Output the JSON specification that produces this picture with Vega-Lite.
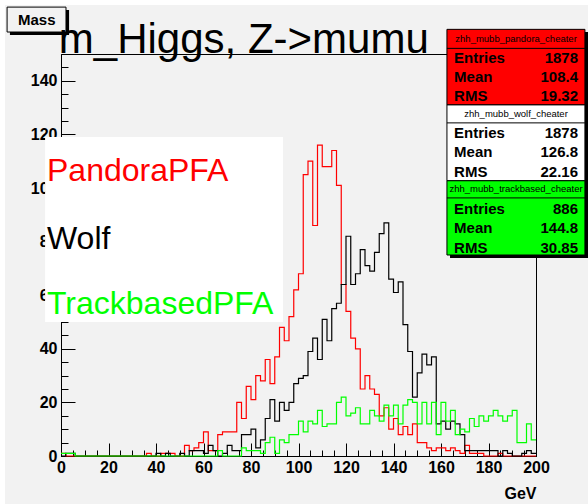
{
  "$schema": "https://vega.github.io/schema/vega-lite/v6.json",
  "width": 475,
  "height": 402,
  "autosize": {"type": "none"},
  "padding": {"left": 61, "top": 54, "right": 52, "bottom": 48},
  "background": "#f2f2f2",
  "config": {
    "font": "Liberation Sans",
    "view": {"stroke": "black", "strokeWidth": 1, "fill": "#f2f2f2"},
    "axis": {"grid": false}
  },
  "datasets": {
    "hist": [
      {"s":"PandoraPFA","lo":0,"hi":2,"n":1},{"s":"PandoraPFA","lo":2,"hi":4,"n":0},{"s":"PandoraPFA","lo":4,"hi":6,"n":0},{"s":"PandoraPFA","lo":6,"hi":8,"n":0},{"s":"PandoraPFA","lo":8,"hi":10,"n":0},
      {"s":"PandoraPFA","lo":10,"hi":12,"n":0},{"s":"PandoraPFA","lo":12,"hi":14,"n":0},{"s":"PandoraPFA","lo":14,"hi":16,"n":0},{"s":"PandoraPFA","lo":16,"hi":18,"n":0},{"s":"PandoraPFA","lo":18,"hi":20,"n":0},
      {"s":"PandoraPFA","lo":20,"hi":22,"n":0},{"s":"PandoraPFA","lo":22,"hi":24,"n":0},{"s":"PandoraPFA","lo":24,"hi":26,"n":0},{"s":"PandoraPFA","lo":26,"hi":28,"n":0},{"s":"PandoraPFA","lo":28,"hi":30,"n":0},
      {"s":"PandoraPFA","lo":30,"hi":32,"n":0},{"s":"PandoraPFA","lo":32,"hi":34,"n":0},{"s":"PandoraPFA","lo":34,"hi":36,"n":0},{"s":"PandoraPFA","lo":36,"hi":38,"n":1},{"s":"PandoraPFA","lo":38,"hi":40,"n":0},
      {"s":"PandoraPFA","lo":40,"hi":42,"n":0},{"s":"PandoraPFA","lo":42,"hi":44,"n":1},{"s":"PandoraPFA","lo":44,"hi":46,"n":1},{"s":"PandoraPFA","lo":46,"hi":48,"n":1},{"s":"PandoraPFA","lo":48,"hi":50,"n":0},
      {"s":"PandoraPFA","lo":50,"hi":52,"n":0},{"s":"PandoraPFA","lo":52,"hi":54,"n":4},{"s":"PandoraPFA","lo":54,"hi":56,"n":2},{"s":"PandoraPFA","lo":56,"hi":58,"n":3},{"s":"PandoraPFA","lo":58,"hi":60,"n":5},
      {"s":"PandoraPFA","lo":60,"hi":62,"n":9},{"s":"PandoraPFA","lo":62,"hi":64,"n":2},{"s":"PandoraPFA","lo":64,"hi":66,"n":2},{"s":"PandoraPFA","lo":66,"hi":68,"n":8},{"s":"PandoraPFA","lo":68,"hi":70,"n":9},
      {"s":"PandoraPFA","lo":70,"hi":72,"n":9},{"s":"PandoraPFA","lo":72,"hi":74,"n":9},{"s":"PandoraPFA","lo":74,"hi":76,"n":20},{"s":"PandoraPFA","lo":76,"hi":78,"n":14},{"s":"PandoraPFA","lo":78,"hi":80,"n":26},
      {"s":"PandoraPFA","lo":80,"hi":82,"n":21},{"s":"PandoraPFA","lo":82,"hi":84,"n":30},{"s":"PandoraPFA","lo":84,"hi":86,"n":28},{"s":"PandoraPFA","lo":86,"hi":88,"n":36},{"s":"PandoraPFA","lo":88,"hi":90,"n":27},
      {"s":"PandoraPFA","lo":90,"hi":92,"n":37},{"s":"PandoraPFA","lo":92,"hi":94,"n":48},{"s":"PandoraPFA","lo":94,"hi":96,"n":43},{"s":"PandoraPFA","lo":96,"hi":98,"n":52},{"s":"PandoraPFA","lo":98,"hi":100,"n":62},
      {"s":"PandoraPFA","lo":100,"hi":102,"n":68},{"s":"PandoraPFA","lo":102,"hi":104,"n":105},{"s":"PandoraPFA","lo":104,"hi":106,"n":110},{"s":"PandoraPFA","lo":106,"hi":108,"n":86},{"s":"PandoraPFA","lo":108,"hi":110,"n":116},
      {"s":"PandoraPFA","lo":110,"hi":112,"n":108},{"s":"PandoraPFA","lo":112,"hi":114,"n":108},{"s":"PandoraPFA","lo":114,"hi":116,"n":114},{"s":"PandoraPFA","lo":116,"hi":118,"n":101},{"s":"PandoraPFA","lo":118,"hi":120,"n":64},
      {"s":"PandoraPFA","lo":120,"hi":122,"n":54},{"s":"PandoraPFA","lo":122,"hi":124,"n":44},{"s":"PandoraPFA","lo":124,"hi":126,"n":40},{"s":"PandoraPFA","lo":126,"hi":128,"n":25},{"s":"PandoraPFA","lo":128,"hi":130,"n":30},
      {"s":"PandoraPFA","lo":130,"hi":132,"n":25},{"s":"PandoraPFA","lo":132,"hi":134,"n":23},{"s":"PandoraPFA","lo":134,"hi":136,"n":15},{"s":"PandoraPFA","lo":136,"hi":138,"n":18},{"s":"PandoraPFA","lo":138,"hi":140,"n":10},
      {"s":"PandoraPFA","lo":140,"hi":142,"n":14},{"s":"PandoraPFA","lo":142,"hi":144,"n":8},{"s":"PandoraPFA","lo":144,"hi":146,"n":11},{"s":"PandoraPFA","lo":146,"hi":148,"n":8},{"s":"PandoraPFA","lo":148,"hi":150,"n":12},
      {"s":"PandoraPFA","lo":150,"hi":152,"n":5},{"s":"PandoraPFA","lo":152,"hi":154,"n":5},{"s":"PandoraPFA","lo":154,"hi":156,"n":3},{"s":"PandoraPFA","lo":156,"hi":158,"n":2},{"s":"PandoraPFA","lo":158,"hi":160,"n":3},
      {"s":"PandoraPFA","lo":160,"hi":162,"n":3},{"s":"PandoraPFA","lo":162,"hi":164,"n":2},{"s":"PandoraPFA","lo":164,"hi":166,"n":3},{"s":"PandoraPFA","lo":166,"hi":168,"n":2},{"s":"PandoraPFA","lo":168,"hi":170,"n":1},
      {"s":"PandoraPFA","lo":170,"hi":172,"n":4},{"s":"PandoraPFA","lo":172,"hi":174,"n":1},{"s":"PandoraPFA","lo":174,"hi":176,"n":1},{"s":"PandoraPFA","lo":176,"hi":178,"n":1},{"s":"PandoraPFA","lo":178,"hi":180,"n":0},
      {"s":"PandoraPFA","lo":180,"hi":182,"n":0},{"s":"PandoraPFA","lo":182,"hi":184,"n":0},{"s":"PandoraPFA","lo":184,"hi":186,"n":1},{"s":"PandoraPFA","lo":186,"hi":188,"n":0},{"s":"PandoraPFA","lo":188,"hi":190,"n":0},
      {"s":"PandoraPFA","lo":190,"hi":192,"n":0},{"s":"PandoraPFA","lo":192,"hi":194,"n":0},{"s":"PandoraPFA","lo":194,"hi":196,"n":0},{"s":"PandoraPFA","lo":196,"hi":198,"n":0},{"s":"PandoraPFA","lo":198,"hi":200,"n":0},

      {"s":"Wolf","lo":0,"hi":2,"n":0},{"s":"Wolf","lo":2,"hi":4,"n":1},{"s":"Wolf","lo":4,"hi":6,"n":1},{"s":"Wolf","lo":6,"hi":8,"n":0},{"s":"Wolf","lo":8,"hi":10,"n":0},
      {"s":"Wolf","lo":10,"hi":12,"n":0},{"s":"Wolf","lo":12,"hi":14,"n":0},{"s":"Wolf","lo":14,"hi":16,"n":0},{"s":"Wolf","lo":16,"hi":18,"n":0},{"s":"Wolf","lo":18,"hi":20,"n":0},
      {"s":"Wolf","lo":20,"hi":22,"n":0},{"s":"Wolf","lo":22,"hi":24,"n":0},{"s":"Wolf","lo":24,"hi":26,"n":0},{"s":"Wolf","lo":26,"hi":28,"n":0},{"s":"Wolf","lo":28,"hi":30,"n":0},
      {"s":"Wolf","lo":30,"hi":32,"n":0},{"s":"Wolf","lo":32,"hi":34,"n":0},{"s":"Wolf","lo":34,"hi":36,"n":0},{"s":"Wolf","lo":36,"hi":38,"n":0},{"s":"Wolf","lo":38,"hi":40,"n":0},
      {"s":"Wolf","lo":40,"hi":42,"n":1},{"s":"Wolf","lo":42,"hi":44,"n":0},{"s":"Wolf","lo":44,"hi":46,"n":1},{"s":"Wolf","lo":46,"hi":48,"n":0},{"s":"Wolf","lo":48,"hi":50,"n":0},
      {"s":"Wolf","lo":50,"hi":52,"n":1},{"s":"Wolf","lo":52,"hi":54,"n":0},{"s":"Wolf","lo":54,"hi":56,"n":2},{"s":"Wolf","lo":56,"hi":58,"n":2},{"s":"Wolf","lo":58,"hi":60,"n":2},
      {"s":"Wolf","lo":60,"hi":62,"n":1},{"s":"Wolf","lo":62,"hi":64,"n":4},{"s":"Wolf","lo":64,"hi":66,"n":2},{"s":"Wolf","lo":66,"hi":68,"n":0},{"s":"Wolf","lo":68,"hi":70,"n":1},
      {"s":"Wolf","lo":70,"hi":72,"n":4},{"s":"Wolf","lo":72,"hi":74,"n":2},{"s":"Wolf","lo":74,"hi":76,"n":2},{"s":"Wolf","lo":76,"hi":78,"n":8},{"s":"Wolf","lo":78,"hi":80,"n":8},
      {"s":"Wolf","lo":80,"hi":82,"n":10},{"s":"Wolf","lo":82,"hi":84,"n":3},{"s":"Wolf","lo":84,"hi":86,"n":6},{"s":"Wolf","lo":86,"hi":88,"n":14},{"s":"Wolf","lo":88,"hi":90,"n":21},
      {"s":"Wolf","lo":90,"hi":92,"n":13},{"s":"Wolf","lo":92,"hi":94,"n":20},{"s":"Wolf","lo":94,"hi":96,"n":17},{"s":"Wolf","lo":96,"hi":98,"n":20},{"s":"Wolf","lo":98,"hi":100,"n":27},
      {"s":"Wolf","lo":100,"hi":102,"n":29},{"s":"Wolf","lo":102,"hi":104,"n":30},{"s":"Wolf","lo":104,"hi":106,"n":39},{"s":"Wolf","lo":106,"hi":108,"n":44},{"s":"Wolf","lo":108,"hi":110,"n":36},
      {"s":"Wolf","lo":110,"hi":112,"n":51},{"s":"Wolf","lo":112,"hi":114,"n":43},{"s":"Wolf","lo":114,"hi":116,"n":55},{"s":"Wolf","lo":116,"hi":118,"n":57},{"s":"Wolf","lo":118,"hi":120,"n":64},
      {"s":"Wolf","lo":120,"hi":122,"n":82},{"s":"Wolf","lo":122,"hi":124,"n":64},{"s":"Wolf","lo":124,"hi":126,"n":68},{"s":"Wolf","lo":126,"hi":128,"n":77},{"s":"Wolf","lo":128,"hi":130,"n":71},
      {"s":"Wolf","lo":130,"hi":132,"n":69},{"s":"Wolf","lo":132,"hi":134,"n":76},{"s":"Wolf","lo":134,"hi":136,"n":83},{"s":"Wolf","lo":136,"hi":138,"n":87},{"s":"Wolf","lo":138,"hi":140,"n":66},
      {"s":"Wolf","lo":140,"hi":142,"n":61},{"s":"Wolf","lo":142,"hi":144,"n":65},{"s":"Wolf","lo":144,"hi":146,"n":49},{"s":"Wolf","lo":146,"hi":148,"n":39},{"s":"Wolf","lo":148,"hi":150,"n":22},
      {"s":"Wolf","lo":150,"hi":152,"n":31},{"s":"Wolf","lo":152,"hi":154,"n":38},{"s":"Wolf","lo":154,"hi":156,"n":34},{"s":"Wolf","lo":156,"hi":158,"n":37},{"s":"Wolf","lo":158,"hi":160,"n":12},
      {"s":"Wolf","lo":160,"hi":162,"n":13},{"s":"Wolf","lo":162,"hi":164,"n":10},{"s":"Wolf","lo":164,"hi":166,"n":13},{"s":"Wolf","lo":166,"hi":168,"n":12},{"s":"Wolf","lo":168,"hi":170,"n":8},
      {"s":"Wolf","lo":170,"hi":172,"n":2},{"s":"Wolf","lo":172,"hi":174,"n":2},{"s":"Wolf","lo":174,"hi":176,"n":2},{"s":"Wolf","lo":176,"hi":178,"n":2},{"s":"Wolf","lo":178,"hi":180,"n":2},
      {"s":"Wolf","lo":180,"hi":182,"n":2},{"s":"Wolf","lo":182,"hi":184,"n":2},{"s":"Wolf","lo":184,"hi":186,"n":0},{"s":"Wolf","lo":186,"hi":188,"n":2},{"s":"Wolf","lo":188,"hi":190,"n":1},
      {"s":"Wolf","lo":190,"hi":192,"n":0},{"s":"Wolf","lo":192,"hi":194,"n":0},{"s":"Wolf","lo":194,"hi":196,"n":1},{"s":"Wolf","lo":196,"hi":198,"n":2},{"s":"Wolf","lo":198,"hi":200,"n":1},

      {"s":"TrackbasedPFA","lo":0,"hi":2,"n":1},{"s":"TrackbasedPFA","lo":2,"hi":4,"n":1},{"s":"TrackbasedPFA","lo":4,"hi":6,"n":1},{"s":"TrackbasedPFA","lo":6,"hi":8,"n":0},{"s":"TrackbasedPFA","lo":8,"hi":10,"n":0},
      {"s":"TrackbasedPFA","lo":10,"hi":12,"n":0},{"s":"TrackbasedPFA","lo":12,"hi":14,"n":0},{"s":"TrackbasedPFA","lo":14,"hi":16,"n":0},{"s":"TrackbasedPFA","lo":16,"hi":18,"n":0},{"s":"TrackbasedPFA","lo":18,"hi":20,"n":0},
      {"s":"TrackbasedPFA","lo":20,"hi":22,"n":0},{"s":"TrackbasedPFA","lo":22,"hi":24,"n":0},{"s":"TrackbasedPFA","lo":24,"hi":26,"n":0},{"s":"TrackbasedPFA","lo":26,"hi":28,"n":0},{"s":"TrackbasedPFA","lo":28,"hi":30,"n":0},
      {"s":"TrackbasedPFA","lo":30,"hi":32,"n":0},{"s":"TrackbasedPFA","lo":32,"hi":34,"n":0},{"s":"TrackbasedPFA","lo":34,"hi":36,"n":0},{"s":"TrackbasedPFA","lo":36,"hi":38,"n":0},{"s":"TrackbasedPFA","lo":38,"hi":40,"n":0},
      {"s":"TrackbasedPFA","lo":40,"hi":42,"n":0},{"s":"TrackbasedPFA","lo":42,"hi":44,"n":0},{"s":"TrackbasedPFA","lo":44,"hi":46,"n":0},{"s":"TrackbasedPFA","lo":46,"hi":48,"n":0},{"s":"TrackbasedPFA","lo":48,"hi":50,"n":0},
      {"s":"TrackbasedPFA","lo":50,"hi":52,"n":0},{"s":"TrackbasedPFA","lo":52,"hi":54,"n":0},{"s":"TrackbasedPFA","lo":54,"hi":56,"n":0},{"s":"TrackbasedPFA","lo":56,"hi":58,"n":0},{"s":"TrackbasedPFA","lo":58,"hi":60,"n":0},
      {"s":"TrackbasedPFA","lo":60,"hi":62,"n":0},{"s":"TrackbasedPFA","lo":62,"hi":64,"n":0},{"s":"TrackbasedPFA","lo":64,"hi":66,"n":0},{"s":"TrackbasedPFA","lo":66,"hi":68,"n":2},{"s":"TrackbasedPFA","lo":68,"hi":70,"n":0},
      {"s":"TrackbasedPFA","lo":70,"hi":72,"n":0},{"s":"TrackbasedPFA","lo":72,"hi":74,"n":0},{"s":"TrackbasedPFA","lo":74,"hi":76,"n":0},{"s":"TrackbasedPFA","lo":76,"hi":78,"n":3},{"s":"TrackbasedPFA","lo":78,"hi":80,"n":2},
      {"s":"TrackbasedPFA","lo":80,"hi":82,"n":2},{"s":"TrackbasedPFA","lo":82,"hi":84,"n":2},{"s":"TrackbasedPFA","lo":84,"hi":86,"n":1},{"s":"TrackbasedPFA","lo":86,"hi":88,"n":5},{"s":"TrackbasedPFA","lo":88,"hi":90,"n":7},
      {"s":"TrackbasedPFA","lo":90,"hi":92,"n":1},{"s":"TrackbasedPFA","lo":92,"hi":94,"n":6},{"s":"TrackbasedPFA","lo":94,"hi":96,"n":5},{"s":"TrackbasedPFA","lo":96,"hi":98,"n":8},{"s":"TrackbasedPFA","lo":98,"hi":100,"n":8},
      {"s":"TrackbasedPFA","lo":100,"hi":102,"n":13},{"s":"TrackbasedPFA","lo":102,"hi":104,"n":9},{"s":"TrackbasedPFA","lo":104,"hi":106,"n":13},{"s":"TrackbasedPFA","lo":106,"hi":108,"n":12},{"s":"TrackbasedPFA","lo":108,"hi":110,"n":17},
      {"s":"TrackbasedPFA","lo":110,"hi":112,"n":11},{"s":"TrackbasedPFA","lo":112,"hi":114,"n":12},{"s":"TrackbasedPFA","lo":114,"hi":116,"n":12},{"s":"TrackbasedPFA","lo":116,"hi":118,"n":20},{"s":"TrackbasedPFA","lo":118,"hi":120,"n":22},
      {"s":"TrackbasedPFA","lo":120,"hi":122,"n":15},{"s":"TrackbasedPFA","lo":122,"hi":124,"n":16},{"s":"TrackbasedPFA","lo":124,"hi":126,"n":18},{"s":"TrackbasedPFA","lo":126,"hi":128,"n":12},{"s":"TrackbasedPFA","lo":128,"hi":130,"n":12},
      {"s":"TrackbasedPFA","lo":130,"hi":132,"n":17},{"s":"TrackbasedPFA","lo":132,"hi":134,"n":15},{"s":"TrackbasedPFA","lo":134,"hi":136,"n":13},{"s":"TrackbasedPFA","lo":136,"hi":138,"n":19},{"s":"TrackbasedPFA","lo":138,"hi":140,"n":15},
      {"s":"TrackbasedPFA","lo":140,"hi":142,"n":19},{"s":"TrackbasedPFA","lo":142,"hi":144,"n":12},{"s":"TrackbasedPFA","lo":144,"hi":146,"n":19},{"s":"TrackbasedPFA","lo":146,"hi":148,"n":21},{"s":"TrackbasedPFA","lo":148,"hi":150,"n":20},
      {"s":"TrackbasedPFA","lo":150,"hi":152,"n":12},{"s":"TrackbasedPFA","lo":152,"hi":154,"n":20},{"s":"TrackbasedPFA","lo":154,"hi":156,"n":12},{"s":"TrackbasedPFA","lo":156,"hi":158,"n":20},{"s":"TrackbasedPFA","lo":158,"hi":160,"n":8},
      {"s":"TrackbasedPFA","lo":160,"hi":162,"n":20},{"s":"TrackbasedPFA","lo":162,"hi":164,"n":13},{"s":"TrackbasedPFA","lo":164,"hi":166,"n":17},{"s":"TrackbasedPFA","lo":166,"hi":168,"n":8},{"s":"TrackbasedPFA","lo":168,"hi":170,"n":10},
      {"s":"TrackbasedPFA","lo":170,"hi":172,"n":9},{"s":"TrackbasedPFA","lo":172,"hi":174,"n":14},{"s":"TrackbasedPFA","lo":174,"hi":176,"n":11},{"s":"TrackbasedPFA","lo":176,"hi":178,"n":15},{"s":"TrackbasedPFA","lo":178,"hi":180,"n":13},
      {"s":"TrackbasedPFA","lo":180,"hi":182,"n":15},{"s":"TrackbasedPFA","lo":182,"hi":184,"n":17},{"s":"TrackbasedPFA","lo":184,"hi":186,"n":15},{"s":"TrackbasedPFA","lo":186,"hi":188,"n":13},{"s":"TrackbasedPFA","lo":188,"hi":190,"n":15},
      {"s":"TrackbasedPFA","lo":190,"hi":192,"n":17},{"s":"TrackbasedPFA","lo":192,"hi":194,"n":5},{"s":"TrackbasedPFA","lo":194,"hi":196,"n":5},{"s":"TrackbasedPFA","lo":196,"hi":198,"n":12},{"s":"TrackbasedPFA","lo":198,"hi":200,"n":6}
    ],
    "plainBoxes": [
      {"k":"strip","x1":-25.7,"x2":-23.6,"y1":170.2,"y2":-17.9},
      {"k":"strip","x1":-25.7,"x2":222,"y1":170.2,"y2":168.3},
      {"k":"shadow","x1":163.8,"x2":221.9,"y1":158.2,"y2":73.9},
      {"k":"shadow","x1":-21.5,"x2":3.4,"y1":166.4,"y2":157.1},
      {"k":"legend","x1":-6.7,"x2":93.5,"y1":119,"y2":50}
    ],
    "framedBoxes": [
      {"k":"mass","x1":-22.7,"x2":2.1,"y1":167.5,"y2":158.2},
      {"k":"pandora","x1":162.5,"x2":220.6,"y1":159.2,"y2":131},
      {"k":"wolf","x1":162.5,"x2":220.6,"y1":131,"y2":102.7},
      {"k":"track","x1":162.5,"x2":220.6,"y1":102.7,"y2":75}
    ],
    "separators": [
      {"x1":162.5,"x2":220.6,"y":152.1},
      {"x1":162.5,"x2":220.6,"y":124.3},
      {"x1":162.5,"x2":220.6,"y":96.3}
    ],
    "statNames": [
      {"t":"Entries","x":165.5,"y":148.4},{"t":"Mean","x":165.5,"y":141.5},{"t":"RMS","x":165.5,"y":134.3},
      {"t":"Entries","x":165.5,"y":120.5},{"t":"Mean","x":165.5,"y":113.4},{"t":"RMS","x":165.5,"y":106.1},
      {"t":"Entries","x":165.5,"y":92.2},{"t":"Mean","x":165.5,"y":85.1},{"t":"RMS","x":165.5,"y":77.7}
    ],
    "statValues": [
      {"t":"1878","x":217.7,"y":148.4},{"t":"108.4","x":217.7,"y":141.5},{"t":"19.32","x":217.7,"y":134.3},
      {"t":"1878","x":217.7,"y":120.5},{"t":"126.8","x":217.7,"y":113.4},{"t":"22.16","x":217.7,"y":106.1},
      {"t":"886","x":217.7,"y":92.2},{"t":"144.8","x":217.7,"y":85.1},{"t":"30.85","x":217.7,"y":77.7}
    ],
    "statHeads": [
      {"t":"zhh_mubb_pandora_cheater","x":191.6,"y":155.7},
      {"t":"zhh_mubb_wolf_cheater","x":191.6,"y":127.6},
      {"t":"zhh_mubb_trackbased_cheater","x":191.6,"y":99.6}
    ],
    "legendRows": [
      {"s":"PandoraPFA","x":-5.9,"y":102.6},
      {"s":"Wolf","x":-5.9,"y":77.2},
      {"s":"TrackbasedPFA","x":-5.9,"y":53.0}
    ],
    "massLabel": [
      {"t":"Mass","x":-10.2,"y":162.8}
    ],
    "titleText": [
      {"t":"m_Higgs, Z->mumu","x":-0.9,"y":150.4}
    ]
  },
  "layer": [
    {
      "data": {"name": "plainBoxes"},
      "mark": {"type": "rect", "strokeWidth": 0},
      "encoding": {
        "x": {"field": "x1", "type": "quantitative", "scale": {"domain": [0, 200], "nice": false, "zero": false},
              "axis": {"orient": "bottom", "values": [0,5,10,15,20,25,30,35,40,45,50,55,60,65,70,75,80,85,90,95,100,105,110,115,120,125,130,135,140,145,150,155,160,165,170,175,180,185,190,195,200],
                       "tickSize": -6, "tickColor": "black", "tickWidth": 1, "labels": false, "domain": false, "title": null, "grid": false}},
        "x2": {"field": "x2"},
        "y": {"field": "y1", "type": "quantitative", "scale": {"domain": [0, 150], "nice": false, "zero": false},
              "axis": {"orient": "left", "values": [0,5,10,15,20,25,30,35,40,45,50,55,60,65,70,75,80,85,90,95,100,105,110,115,120,125,130,135,140,145,150],
                       "tickSize": -7, "tickColor": "black", "tickWidth": 1, "labels": false, "domain": false, "title": null, "grid": false}},
        "y2": {"field": "y2"},
        "fill": {"field": "k", "type": "nominal", "legend": null,
                 "scale": {"domain": ["strip","shadow","legend","mass","pandora","wolf","track"],
                           "range": ["#ffffff","#000000","#ffffff","#f2f2f2","#ff0000","#ffffff","#00ff00"]}}
      }
    },
    {
      "data": {"name": "framedBoxes"},
      "mark": {"type": "rect", "stroke": "black", "strokeWidth": 1},
      "encoding": {
        "x": {"field": "x1", "type": "quantitative", "scale": {"domain": [0, 200], "nice": false, "zero": false}, "axis": null},
        "x2": {"field": "x2"},
        "y": {"field": "y1", "type": "quantitative", "scale": {"domain": [0, 150], "nice": false, "zero": false}, "axis": null},
        "y2": {"field": "y2"},
        "fill": {"field": "k", "type": "nominal", "legend": null,
                 "scale": {"domain": ["strip","shadow","legend","mass","pandora","wolf","track"],
                           "range": ["#ffffff","#000000","#ffffff","#f2f2f2","#ff0000","#ffffff","#00ff00"]}}
      }
    },
    {
      "data": {"name": "separators"},
      "mark": {"type": "rule", "color": "black", "strokeWidth": 1},
      "encoding": {
        "x": {"field": "x1", "type": "quantitative", "scale": {"domain": [0, 200], "nice": false, "zero": false}, "axis": null},
        "x2": {"field": "x2"},
        "y": {"field": "y", "type": "quantitative", "scale": {"domain": [0, 150], "nice": false, "zero": false}, "axis": null}
      }
    },
    {
      "data": {"name": "hist"},
      "transform": [{"fold": ["lo", "hi"], "as": ["k", "x"]}],
      "mark": {"type": "line", "strokeWidth": 1.2, "interpolate": "linear"},
      "encoding": {
        "x": {"field": "x", "type": "quantitative", "scale": {"domain": [0, 200], "nice": false, "zero": false},
              "axis": {"orient": "bottom", "values": [0,20,40,60,80,100,120,140,160,180,200],
                       "tickSize": -13, "tickColor": "black", "tickWidth": 1, "domainColor": "black", "domainWidth": 1,
                       "labelPadding": 16, "labelFontSize": 16, "labelFontWeight": "bold", "labelColor": "black", "labelFont": "Liberation Sans",
                       "labelFlush": false, "labelOverlap": false, "labelBound": false, "grid": false,
                       "title": "GeV", "titleFontSize": 16, "titleFontWeight": "bold", "titleColor": "black", "titleFont": "Liberation Sans",
                       "titleAnchor": "end", "titleAlign": "right", "titleBaseline": "alphabetic", "titleX": 475, "titleY": 42}},
        "y": {"field": "n", "type": "quantitative", "scale": {"domain": [0, 150], "nice": false, "zero": false},
              "axis": {"orient": "left", "values": [0,20,40,60,80,100,120,140],
                       "tickSize": -14, "tickColor": "black", "tickWidth": 1, "domainColor": "black", "domainWidth": 1,
                       "labelPadding": 18, "labelFontSize": 16, "labelFontWeight": "bold", "labelColor": "black", "labelFont": "Liberation Sans",
                       "labelFlush": false, "labelOverlap": false, "labelBound": false, "grid": false, "title": null}},
        "color": {"field": "s", "type": "nominal", "legend": null,
                  "scale": {"domain": ["PandoraPFA", "Wolf", "TrackbasedPFA"], "range": ["#ff0000", "#000000", "#00ff00"]}},
        "order": [{"field": "x", "type": "quantitative"}, {"field": "k", "type": "nominal"}]
      }
    },
    {
      "data": {"name": "statHeads"},
      "mark": {"type": "text", "align": "center", "baseline": "middle", "fontSize": 9.5, "font": "Liberation Sans", "color": "black"},
      "encoding": {
        "x": {"field": "x", "type": "quantitative", "scale": {"domain": [0, 200], "nice": false, "zero": false}, "axis": null},
        "y": {"field": "y", "type": "quantitative", "scale": {"domain": [0, 150], "nice": false, "zero": false}, "axis": null},
        "text": {"field": "t"}
      }
    },
    {
      "data": {"name": "statNames"},
      "mark": {"type": "text", "align": "left", "baseline": "middle", "fontSize": 15, "fontWeight": "bold", "font": "Liberation Sans", "color": "black"},
      "encoding": {
        "x": {"field": "x", "type": "quantitative", "scale": {"domain": [0, 200], "nice": false, "zero": false}, "axis": null},
        "y": {"field": "y", "type": "quantitative", "scale": {"domain": [0, 150], "nice": false, "zero": false}, "axis": null},
        "text": {"field": "t"}
      }
    },
    {
      "data": {"name": "statValues"},
      "mark": {"type": "text", "align": "right", "baseline": "middle", "fontSize": 15, "fontWeight": "bold", "font": "Liberation Sans", "color": "black"},
      "encoding": {
        "x": {"field": "x", "type": "quantitative", "scale": {"domain": [0, 200], "nice": false, "zero": false}, "axis": null},
        "y": {"field": "y", "type": "quantitative", "scale": {"domain": [0, 150], "nice": false, "zero": false}, "axis": null},
        "text": {"field": "t"}
      }
    },
    {
      "data": {"name": "legendRows"},
      "mark": {"type": "text", "align": "left", "baseline": "alphabetic", "fontSize": 32, "font": "Liberation Sans"},
      "encoding": {
        "x": {"field": "x", "type": "quantitative", "scale": {"domain": [0, 200], "nice": false, "zero": false}, "axis": null},
        "y": {"field": "y", "type": "quantitative", "scale": {"domain": [0, 150], "nice": false, "zero": false}, "axis": null},
        "text": {"field": "s"},
        "color": {"field": "s", "type": "nominal", "legend": null,
                  "scale": {"domain": ["PandoraPFA", "Wolf", "TrackbasedPFA"], "range": ["#ff0000", "#000000", "#00ff00"]}}
      }
    },
    {
      "data": {"name": "massLabel"},
      "mark": {"type": "text", "align": "center", "baseline": "middle", "fontSize": 15, "fontWeight": "bold", "font": "Liberation Sans", "color": "black"},
      "encoding": {
        "x": {"field": "x", "type": "quantitative", "scale": {"domain": [0, 200], "nice": false, "zero": false}, "axis": null},
        "y": {"field": "y", "type": "quantitative", "scale": {"domain": [0, 150], "nice": false, "zero": false}, "axis": null},
        "text": {"field": "t"}
      }
    },
    {
      "data": {"name": "titleText"},
      "mark": {"type": "text", "align": "left", "baseline": "alphabetic", "fontSize": 42, "font": "Liberation Sans", "color": "black"},
      "encoding": {
        "x": {"field": "x", "type": "quantitative", "scale": {"domain": [0, 200], "nice": false, "zero": false}, "axis": null},
        "y": {"field": "y", "type": "quantitative", "scale": {"domain": [0, 150], "nice": false, "zero": false}, "axis": null},
        "text": {"field": "t"}
      }
    }
  ],
  "resolve": {"axis": {"x": "independent", "y": "independent"}}
}
